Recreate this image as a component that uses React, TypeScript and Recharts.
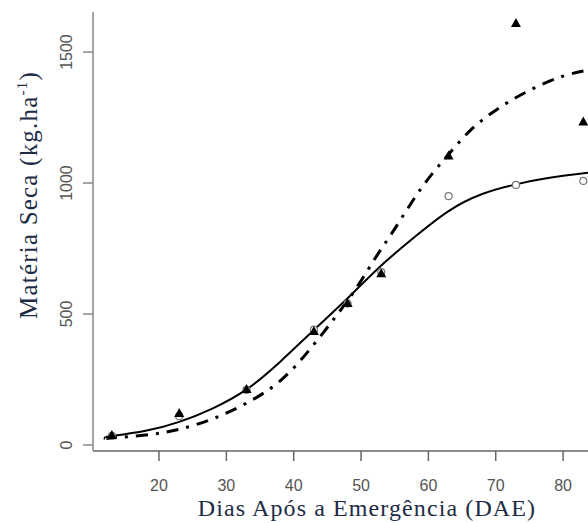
import React from "react";
import { ComposedChart, Line, Scatter, XAxis, YAxis } from "recharts";

const dae = [13, 23, 33, 43, 48, 53, 63, 73, 83];
const trianglesY = [38, 122, 214, 435, 542, 656, 1105, 1611, 1235];
const circlesY = [35, 110, 210, 440, 540, 660, 950, 993, 1008];

const solidCurveX = [12, 13, 18, 23, 28, 33, 38, 43, 48, 53, 58, 63, 68, 73, 78, 84];
const solidCurveY = [30, 34, 54, 88, 140, 212, 318, 439, 560, 685, 795, 893, 958, 995, 1020, 1040];

const dashCurveX = [12, 13, 18, 23, 28, 33, 38, 42.4, 46.2, 49.4, 52.4, 55, 58.8, 62.5, 66.2, 70.4, 75.1, 80, 84];
const dashCurveY = [24, 27, 38, 60, 100, 160, 245, 365, 489, 603, 725, 825, 975, 1095, 1200, 1285, 1355, 1408, 1432];

const xTicks = [20, 30, 40, 50, 60, 70, 80];
const yTicks = [0, 500, 1000, 1500];

const triData = dae.map((x, i) => ({ x, y: trianglesY[i] }));
const circData = dae.map((x, i) => ({ x, y: circlesY[i] }));
const solidData = solidCurveX.map((x, i) => ({ x, y: solidCurveY[i] }));
const dashData = dashCurveX.map((x, i) => ({ x, y: dashCurveY[i] }));

const TriShape = (p: any) => {
  const { cx, cy } = p;
  const s = 5;
  return <path d={`M${cx},${cy - s} L${cx + s},${cy + s * 0.8} L${cx - s},${cy + s * 0.8} Z`} fill="#000" />;
};
const CircShape = (p: any) => {
  const { cx, cy } = p;
  return <circle cx={cx} cy={cy} r={3.5} fill="#fff" stroke="#777" strokeWidth={1.2} />;
};

const XTick = (p: any) => (
  <text x={p.x} y={p.y + 28} textAnchor="middle" fontFamily="Liberation Sans, Arial, sans-serif" fontSize={16} fill="#555">
    {p.payload.value}
  </text>
);
const YTick = (p: any) => (
  <text transform={`translate(${p.x - 9},${p.y}) rotate(-90)`} textAnchor="middle" fontFamily="Liberation Sans, Arial, sans-serif" fontSize={16} fill="#555">
    {p.payload.value}
  </text>
);

export default function App() {
  return (
    <div style={{ position: "absolute", left: 0, top: 0, width: 588, height: 523, background: "#fff" }}>
      <ComposedChart width={588} height={523} margin={{ top: 12, right: 0, bottom: 0, left: 0 }}>
        <XAxis
          dataKey="x"
          type="number"
          domain={[10.2, 83.7]}
          allowDataOverflow
          ticks={xTicks}
          tick={<XTick />}
          tickSize={10}
          height={72}
          axisLine={{ stroke: "#666", strokeWidth: 1.5 }}
          tickLine={{ stroke: "#666", strokeWidth: 1.5 }}
        />
        <YAxis
          dataKey="y"
          type="number"
          domain={[-23, 1653]}
          allowDataOverflow
          ticks={yTicks}
          tick={<YTick />}
          tickSize={10}
          width={93}
          axisLine={{ stroke: "#888", strokeWidth: 1.5 }}
          tickLine={{ stroke: "#888", strokeWidth: 1.5 }}
        />
        <Scatter data={circData} shape={<CircShape />} isAnimationActive={false} />
        <Scatter data={triData} shape={<TriShape />} isAnimationActive={false} />
        <Line data={solidData} dataKey="y" type="natural" stroke="#000" strokeWidth={2} dot={false} isAnimationActive={false} />
        <Line data={dashData} dataKey="y" type="natural" stroke="#000" strokeWidth={3} strokeDasharray="12 8 3 8" dot={false} isAnimationActive={false} />
      </ComposedChart>
      <svg width={588} height={523} style={{ position: "absolute", left: 0, top: 0, pointerEvents: "none" }}>
        <text x={367} y={516} textAnchor="middle" fontFamily="Liberation Serif, Times New Roman, serif" fontSize={24} letterSpacing={1.1} fill="#1e2b45">
          Dias Após a Emergência (DAE)
        </text>
        <text transform="translate(37,195) rotate(-90)" textAnchor="middle" fontFamily="Liberation Serif, Times New Roman, serif" fontSize={25} letterSpacing={1.2} fill="#1e2b45">
          Matéria Seca (kg.ha<tspan fontSize={15} dy={-10}>-1</tspan><tspan dy={10}>)</tspan>
        </text>
      </svg>
    </div>
  );
}
